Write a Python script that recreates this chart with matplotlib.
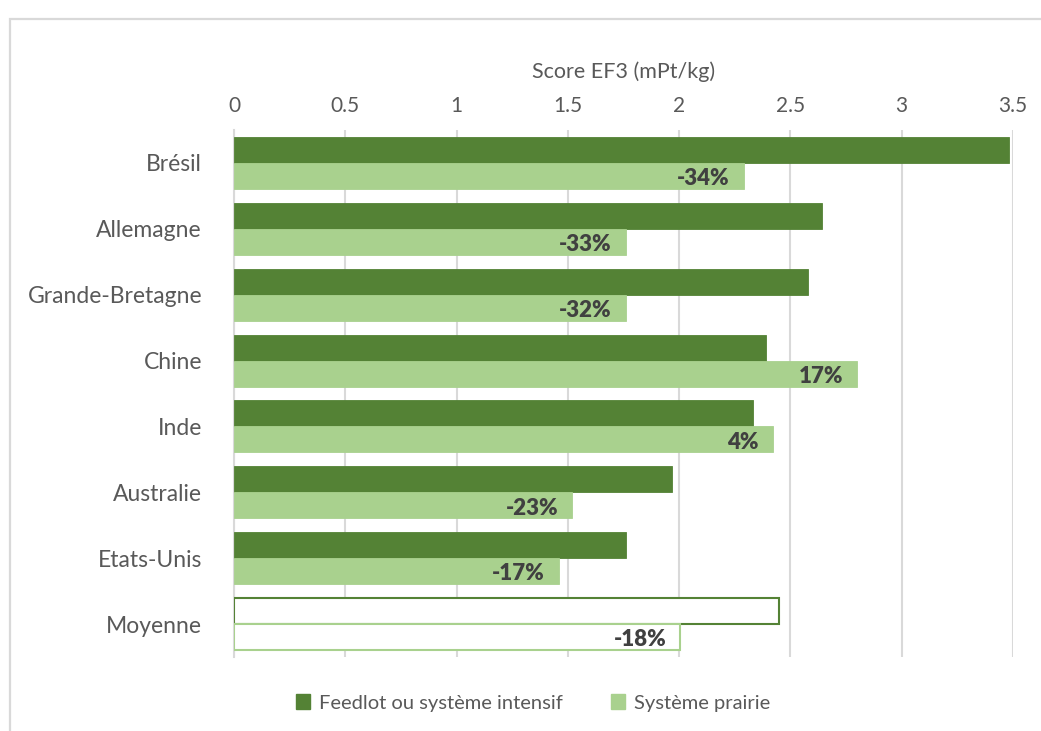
import matplotlib
matplotlib.use("Agg")
import matplotlib.pyplot as plt
from matplotlib.patches import Rectangle

# Data
pays = ["Brésil", "Allemagne", "Grande-Bretagne", "Chine", "Inde",
        "Australie", "Etats-Unis", "Moyenne"]
feedlot = [3.48, 2.64, 2.58, 2.39, 2.33, 1.97, 1.76, 2.45]
prairie = [2.29, 1.76, 1.76, 2.80, 2.42, 1.52, 1.46, 2.005]
x_ticks = [0, 0.5, 1, 1.5, 2, 2.5, 3, 3.5]
x_ticklabels = ["0", "0.5", "1", "1.5", "2", "2.5", "3", "3.5"]

DARK = "#548235"
LIGHT = "#a9d18e"
TEXT = "#595959"
GRID = "#d9d9d9"

plt.rcParams["font.family"] = ["Lato", "DejaVu Sans"]

W, H = 1041, 731
fig = plt.figure(figsize=(W / 100, H / 100), dpi=100)

# outer chart frame (top and left edges visible)
fig.add_artist(Rectangle((9.5 / W, -0.1), 1.2, 1 - 18.5 / H + 0.1,
                         transform=fig.transFigure, fill=False,
                         edgecolor=GRID, linewidth=1.6))

ax = fig.add_axes([234 / W, 1 - 657 / H, (1013 - 234) / W, (657 - 130) / H])

n = len(pays)
h = 0.394
ys = list(range(n))
for i in ys:
    moy = pays[i] == "Moyenne"
    ax.barh(i - h / 2, feedlot[i], height=h,
            color="white" if moy else DARK,
            edgecolor=DARK, linewidth=1.5 if moy else 0.6, zorder=3)
    ax.barh(i + h / 2, prairie[i], height=h,
            color="white" if moy else LIGHT,
            edgecolor=LIGHT, linewidth=1.5 if moy else 0.6, zorder=3)
    pct = round((prairie[i] / feedlot[i] - 1) * 100)
    ax.annotate(f"{pct}%", xy=(prairie[i], i + h / 2),
                xytext=(-10, -2), textcoords="offset points",
                ha="right", va="center", fontsize=16,
                fontweight="heavy", color="#404040", zorder=4)

ax.set_xlim(0, 3.5)
ax.set_ylim(n - 0.5, -0.5)
ax.set_yticks(ys)
ax.set_yticklabels(pays, fontsize=16.5, color=TEXT)
ax.set_xticks(x_ticks)
ax.set_xticklabels(x_ticklabels, fontsize=15, color=TEXT)
ax.xaxis.tick_top()
ax.xaxis.set_label_position("top")
ax.set_xlabel("Score EF3 (mPt/kg)", fontsize=15.5, color=TEXT, labelpad=13)
ax.tick_params(axis="both", length=0)
ax.tick_params(axis="x", pad=10)
ax.tick_params(axis="y", pad=23)
ax.grid(axis="x", color=GRID, linewidth=1.5, zorder=0)
for s in ["top", "right", "bottom"]:
    ax.spines[s].set_visible(False)
ax.spines["left"].set_color(GRID)
ax.spines["left"].set_linewidth(1.5)

handles = [Rectangle((0, 0), 1, 1, color=DARK), Rectangle((0, 0), 1, 1, color=LIGHT)]
fig.legend(handles, ["Feedlot ou système intensif", "Système prairie"],
           loc="center", bbox_to_anchor=(533 / W, 1 - 703 / H), ncol=2,
           frameon=False, fontsize=14.5, labelcolor=TEXT,
           handlelength=0.7, handleheight=0.7, handletextpad=0.45,
           columnspacing=2.4)

fig.savefig("out.png", dpi=100, facecolor="white")
